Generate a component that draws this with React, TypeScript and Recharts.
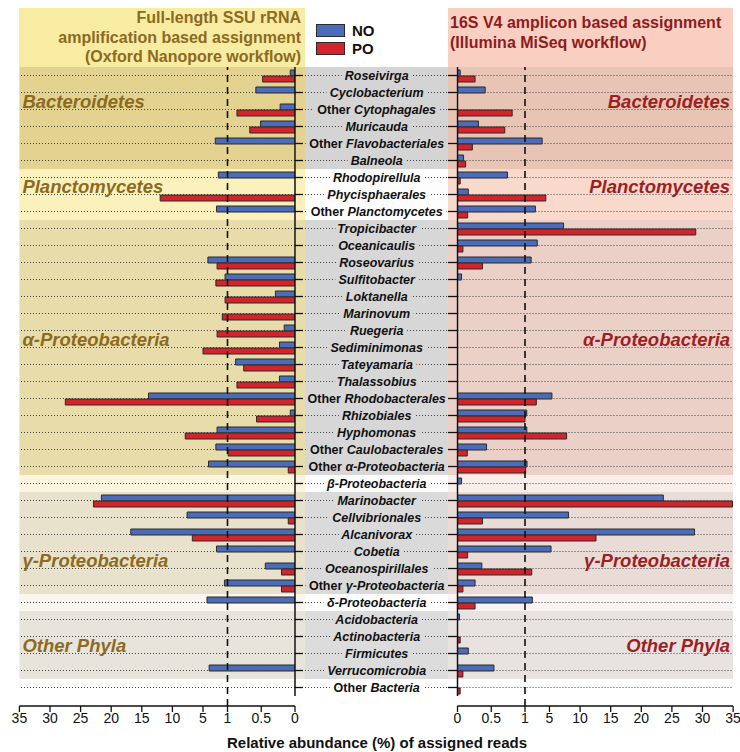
import React from "react";
import { Bar, BarChart, Legend, ReferenceArea, ReferenceLine, XAxis, YAxis } from "recharts";

const CATEGORIES = [
  "Roseivirga", "Cyclobacterium", "Other Cytophagales", "Muricauda", "Other Flavobacteriales",
  "Balneola", "Rhodopirellula", "Phycisphaerales", "Other Planctomycetes",
  "Tropicibacter", "Oceanicaulis", "Roseovarius", "Sulfitobacter", "Loktanella", "Marinovum",
  "Ruegeria", "Sediminimonas", "Tateyamaria", "Thalassobius", "Other Rhodobacterales",
  "Rhizobiales", "Hyphomonas", "Other Caulobacterales", "Other α-Proteobacteria",
  "β-Proteobacteria",
  "Marinobacter", "Cellvibrionales", "Alcanivorax", "Cobetia", "Oceanospirillales", "Other γ-Proteobacteria",
  "δ-Proteobacteria",
  "Acidobacteria", "Actinobacteria", "Firmicutes", "Verrucomicrobia",
  "Other Bacteria",
];

// full-length SSU rRNA (Oxford Nanopore)
const NANOPORE_NO = [
  0.07, 0.58, 0.22, 0.51, 3.0, 0, 2.5, 0, 2.8,
  0, 0, 4.2, 1.4, 0.29, 0, 0.16, 0.23, 0.88, 0.23, 13.9, 0.07, 2.7, 2.9, 4.1,
  0,
  21.6, 7.6, 16.8, 2.8, 0.44, 1.5,
  4.35,
  0, 0, 0, 4.0,
  0,
];
const NANOPORE_PO = [
  0.48, 0, 0.86, 0.67, 0, 0, 0, 12.0, 0,
  0, 0, 2.7, 2.9, 1.4, 1.85, 2.7, 5.0, 0.76, 0.86, 27.5, 0.57, 7.9, 0.99, 0.1,
  0,
  22.9, 0.1, 6.75, 0, 0.2, 0.2,
  0,
  0, 0, 0, 0,
  0,
];

// 16S V4 amplicon (Illumina MiSeq)
const MISEQ_NO = [
  0.04, 0.41, 0, 0.31, 3.8, 0.09, 0.74, 0.16, 2.7,
  7.3, 3.0, 2.0, 0.06, 0, 0, 0, 0, 0, 0, 5.4, 1.28, 1.3, 0.43, 1.33,
  0.06,
  23.6, 8.1, 28.7, 5.25, 0.36, 0.26,
  2.2,
  0.03, 0, 0.16, 0.54,
  0,
];
const MISEQ_PO = [
  0.26, 0, 0.81, 0.7, 0.22, 0.12, 0.04, 4.4, 0.15,
  28.9, 0.08, 0.37, 0, 0, 0, 0, 0, 0, 0, 2.85, 1.0, 7.8, 0.145, 1.1,
  0,
  34.9, 0.37, 12.6, 0.15, 2.1, 0.08,
  0.26,
  0, 0.04, 0, 0.08,
  0.04,
];

const TICK_VALUES = [0, 0.5, 1, 5, 10, 15, 20, 25, 30, 35];

const GROUPS = [
  { first: "Roseivirga", last: "Balneola", label: "Bacteroidetes", at: ["Cyclobacterium", "Other Cytophagales"] },
  { first: "Rhodopirellula", last: "Other Planctomycetes", label: "Planctomycetes", at: ["Rhodopirellula", "Phycisphaerales"] },
  { first: "Tropicibacter", last: "Other α-Proteobacteria", label: "α-Proteobacteria", at: ["Ruegeria", "Sediminimonas"] },
  { first: "β-Proteobacteria", last: "β-Proteobacteria" },
  { first: "Marinobacter", last: "Other γ-Proteobacteria", label: "γ-Proteobacteria", at: ["Cobetia", "Oceanospirillales"] },
  { first: "δ-Proteobacteria", last: "δ-Proteobacteria" },
  { first: "Acidobacteria", last: "Verrucomicrobia", label: "Other Phyla", at: ["Actinobacteria", "Firmicutes"] },
  { first: "Other Bacteria", last: "Other Bacteria" },
];

const LEFT_SHADES = ["#E4D290", "#FBF1BD", "#E7DCAA", "#FAF5DF", "#E8E2CC", "#F9F7EF", "#E7E4DB", "#FFFFFF"];
const RIGHT_SHADES = ["#E8C4B4", "#F9D9CC", "#EAD0C6", "#F9EEEA", "#E9DCD6", "#F9F3F1", "#E8E3E0", "#FFFFFF"];
const MID_SHADES = ["#D4D4D4", "#FDFDFD", "#D7D7D7", "#FDFDFD", "#DADADA", "#FDFDFD", "#DCDCDC", "#FFFFFF"];

const BLUE = "#4A6CBA";
const RED = "#D3232B";
const EDGE = "#2B2B2B";
const INK = "#111111";
const FONT = "'Liberation Sans', Arial, Helvetica, sans-serif";

// broken axis: 0-1 drawn wide, 1-35 compressed
const SLOPE = 6.12 / 67.5;
const T = (v: number) => (v <= 1 ? v : 1 + (v - 1) * SLOPE);
const X_MAX = T(35);

const PLOT_TOP = 67;
const ROW_H = 17;
const AXIS_GAP = 10;
const XAXIS_H = 46;
const H = PLOT_TOP + CATEGORIES.length * ROW_H + AXIS_GAP + XAXIS_H;

const shadeOf: Record<string, number> = {};
GROUPS.forEach((g, gi) => {
  const a = CATEGORIES.indexOf(g.first);
  const b = CATEGORIES.indexOf(g.last);
  for (let i = a; i <= b; i++) shadeOf[CATEGORIES[i]] = gi;
});

const leftData = CATEGORIES.map((name, i) => ({
  name,
  NO: NANOPORE_NO[i] ? T(NANOPORE_NO[i]) : null,
  PO: NANOPORE_PO[i] ? T(NANOPORE_PO[i]) : null,
}));
const rightData = CATEGORIES.map((name, i) => ({
  name,
  NO: MISEQ_NO[i] ? T(MISEQ_NO[i]) : null,
  PO: MISEQ_PO[i] ? T(MISEQ_PO[i]) : null,
}));

const tickFormat = (_v: number, i: number) => String(TICK_VALUES[i]);

function MiddleLabel(props: any) {
  const { x, y, payload } = props;
  const name: string = payload.value;
  const s = shadeOf[name];
  const half = ROW_H / 2;
  const plain = name.startsWith("Other ") ? "Other " : "";
  const rest = name.slice(plain.length);
  return (
    <g>
      <rect x={x + 0.8} y={y - half} width={9.2} height={ROW_H} fill={LEFT_SHADES[s]} />
      <rect x={x + 10} y={y - half} width={143} height={ROW_H} fill={MID_SHADES[s]} />
      <line x1={x} x2={x} y1={y - half} y2={y + half} stroke={INK} strokeWidth={1.5} />
      <line x1={x} x2={x + 8} y1={y} y2={y} stroke={INK} strokeWidth={1.3} />
      <line x1={x + 10} x2={x + 153} y1={y} y2={y} stroke="#444" strokeWidth={1.1} strokeDasharray="1 2" />
      <text
        x={x + 81.7}
        y={y}
        dy="0.36em"
        textAnchor="middle"
        fontSize={12.5}
        fontWeight="bold"
        fontFamily={FONT}
        fill={INK}
        stroke={MID_SHADES[s]}
        strokeWidth={8}
        strokeLinejoin="round"
        paintOrder="stroke"
      >
        {plain && <tspan>{plain}</tspan>}
        <tspan fontStyle="italic">{rest}</tspan>
      </text>
    </g>
  );
}

function RightAxisTick(props: any) {
  const { x, y, payload } = props;
  const s = shadeOf[payload.value];
  const half = ROW_H / 2;
  return (
    <g>
      <rect x={x - 9.5} y={y - half} width={8.7} height={ROW_H} fill={RIGHT_SHADES[s]} />
      <line x1={x} x2={x} y1={y - half} y2={y + half} stroke={INK} strokeWidth={1.5} />
      <line x1={x - 9.5} x2={x} y1={y} y2={y} stroke={INK} strokeWidth={1.3} />
    </g>
  );
}

function LegendBox(props: any) {
  const items = props.payload || [];
  return (
    <div style={{ fontFamily: FONT }}>
      {items.map((e: any) => (
        <div key={e.value} style={{ display: "flex", alignItems: "center", height: 18 }}>
          <span
            style={{
              display: "inline-block",
              width: 27,
              height: 11,
              background: e.color,
              border: `1px solid ${EDGE}`,
              marginRight: 7,
            }}
          />
          <span style={{ fontSize: 15, fontWeight: "bold", color: INK }}>{e.value}</span>
        </div>
      ))}
    </div>
  );
}

const axisTick = { fontSize: 14, fill: INK, fontFamily: FONT };

function Panel({ side }: { side: "left" | "right" }) {
  const left = side === "left";
  const shades = left ? LEFT_SHADES : RIGHT_SHADES;
  const labelColor = left ? "#8C6A1E" : "#9C1F24";
  return (
    <BarChart
      width={left ? 457.5 : 300}
      height={H}
      data={left ? leftData : rightData}
      layout="vertical"
      barGap={0}
      margin={{ top: PLOT_TOP, right: left ? 0 : 6.9, bottom: 0, left: left ? 19.4 : 0 }}
    >
      {GROUPS.map((g, gi) => (
        <ReferenceArea
          key={"band" + gi}
          x1={0}
          x2={X_MAX}
          y1={g.first}
          y2={g.last}
          fill={shades[gi]}
          fillOpacity={1}
          stroke="none"
        />
      ))}
      {GROUPS.filter((g) => g.label).map((g) => (
        <ReferenceArea
          key={"lab" + g.label}
          x1={0}
          x2={X_MAX}
          y1={g.at![0]}
          y2={g.at![1]}
          fillOpacity={0}
          stroke="none"
          label={{
            value: g.label,
            position: left ? "insideLeft" : "insideRight",
            offset: 3,
            fill: labelColor,
            fontSize: 18.5,
            fontWeight: "bold",
            fontStyle: "italic",
            fontFamily: FONT,
          }}
        />
      ))}
      {CATEGORIES.map((c) => (
        <ReferenceLine key={"row" + c} y={c} stroke="#444" strokeWidth={1.1} strokeDasharray="1 2" />
      ))}
      <XAxis
        type="number"
        domain={[0, X_MAX]}
        ticks={TICK_VALUES.map(T)}
        tickFormatter={tickFormat}
        reversed={left}
        allowDataOverflow
        interval={0}
        height={XAXIS_H}
        axisLine={{ stroke: INK, strokeWidth: 1.5 }}
        tickLine={{ stroke: INK, strokeWidth: 1.3 }}
        tickSize={6}
        tickMargin={1}
        tick={axisTick}
      />
      {left ? (
        <YAxis
          type="category"
          dataKey="name"
          orientation="right"
          width={162.5}
          axisLine={false}
          tickLine={false}
          tickSize={0}
          tickMargin={0}
          interval={0}
          padding={{ top: 0, bottom: AXIS_GAP }}
          tick={(p: any) => <MiddleLabel {...p} />}
        />
      ) : (
        <YAxis
          type="category"
          dataKey="name"
          orientation="left"
          width={17.5}
          axisLine={false}
          tickLine={false}
          tickSize={0}
          tickMargin={0}
          interval={0}
          padding={{ top: 0, bottom: AXIS_GAP }}
          tick={(p: any) => <RightAxisTick {...p} />}
        />
      )}
      <Bar dataKey="NO" name="NO" fill={BLUE} stroke={EDGE} strokeWidth={1} barSize={6} isAnimationActive={false} />
      <Bar dataKey="PO" name="PO" fill={RED} stroke={EDGE} strokeWidth={1} barSize={6} isAnimationActive={false} />
      <ReferenceLine x={T(1)} stroke={INK} strokeWidth={1.6} strokeDasharray="7 5" />
      {left && (
        <Legend
          layout="vertical"
          align="center"
          verticalAlign="middle"
          content={(p: any) => <LegendBox {...p} />}
          wrapperStyle={{ left: 316, top: 21, width: 80, height: "auto" }}
        />
      )}
    </BarChart>
  );
}

export default function App() {
  return (
    <div
      style={{
        position: "absolute",
        left: 0,
        top: 0,
        width: 740,
        height: 752,
        background: "#fff",
        fontFamily: FONT,
        overflow: "hidden",
      }}
    >
      <div
        style={{
          position: "absolute",
          left: 19,
          top: 8,
          width: 282,
          height: 59,
          paddingRight: 4,
          background: "#F8ECA2",
          color: "#8C6A1E",
          fontSize: 16,
          fontWeight: "bold",
          lineHeight: "19.5px",
          textAlign: "right",
        }}
      >
        Full-length SSU rRNA
        <br />
        amplification based assignment
        <br />
        (Oxford Nanopore workflow)
      </div>
      <div
        style={{
          position: "absolute",
          left: 448,
          top: 8,
          width: 283,
          height: 54,
          paddingLeft: 2,
          paddingTop: 5,
          background: "#F8CFC1",
          color: "#8E1B1E",
          fontSize: 16,
          fontWeight: "bold",
          lineHeight: "20px",
        }}
      >
        16S V4 amplicon based assignment
        <br />
        (Illumina MiSeq workflow)
      </div>
      <div style={{ position: "absolute", left: 0, top: 0 }}>
        <Panel side="left" />
      </div>
      <div style={{ position: "absolute", left: 440, top: 0 }}>
        <Panel side="right" />
      </div>
      <div
        style={{
          position: "absolute",
          left: 177,
          top: 734,
          width: 400,
          textAlign: "center",
          fontSize: 15,
          fontWeight: "bold",
          color: INK,
        }}
      >
        Relative abundance (%) of assigned reads
      </div>
    </div>
  );
}
